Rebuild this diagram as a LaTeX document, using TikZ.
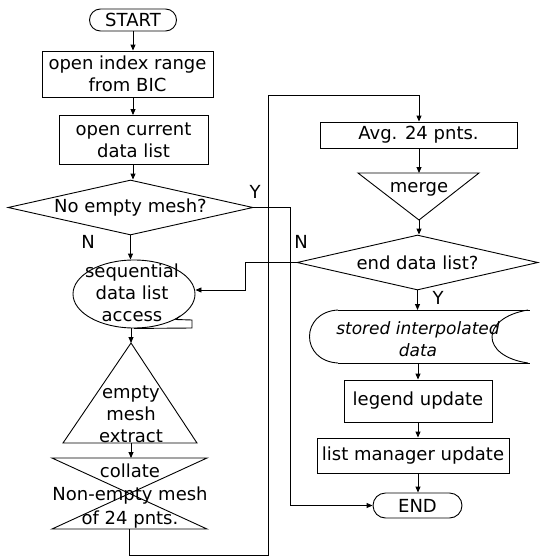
\documentclass[tikz,border=0pt]{standalone}
\usepackage{fontspec}
\setmainfont{DejaVu Sans}
\usetikzlibrary{arrows.meta,shapes.geometric,shapes.misc}
\begin{document}
\begin{tikzpicture}[x=1pt,y=-1pt,line width=0.9pt,
  every node/.style={font=\fontsize{18}{22}\selectfont,inner sep=0pt},
  proc/.style={draw,rectangle,align=center},
  term/.style={draw,rounded rectangle},
  dec/.style={draw,diamond},
  txt/.style={align=center},
  arr/.style={-{Triangle[length=6pt,width=5pt]}}]
\fill[white] (0,0) rectangle (539,557);
\useasboundingbox (0,0) rectangle (539,557);

% left column
\node[term,minimum width=87pt,minimum height=22pt] (start) at (133,20) {START};
\node[proc,minimum width=171pt,minimum height=46pt] (b1) at (127.5,74) {open index range\\from BIC};
\node[proc,minimum width=149pt,minimum height=49pt] (b2) at (133.5,140) {open current\\data list};
\node[dec,minimum width=245pt,minimum height=55pt] (d1) at (130.5,207.5) {};
\node[txt] (d1t) at (130.5,208) {No empty mesh?};
\node[draw,ellipse,minimum width=122pt,minimum height=68pt] (seq) at (134,294) {};
\node[txt] (seqt) at (132,293) {sequential\\data list\\access};
\draw (180,316) -- (176,319.5) -- (192,320) -- (192,328) -- (seq.south);

\coordinate (triTop) at (131,343);
\coordinate (triBL) at (63,443);
\coordinate (triBR) at (197,443);
\coordinate (triBase) at (131,443);
\draw (triTop) -- (triBR) -- (triBL) -- cycle;
\node[txt] (trit) at (131,414) {empty\\mesh\\extract};

\coordinate (cTL) at (52,458);
\coordinate (cTR) at (207,458);
\coordinate (cBL) at (52,529);
\coordinate (cBR) at (207,529);
\coordinate (cTop) at (131,458);
\coordinate (cBot) at (129,529);
\draw (cTL) -- (cTR) -- (cBL) -- (cBR) -- cycle;
\node[txt,font=\fontsize{18}{23.5}\selectfont] (coll) at (130,496) {collate\\Non-empty mesh\\of 24 pnts.};

% right column
\node[proc,minimum width=197pt,minimum height=26pt] (avg) at (418.5,135) {Avg. 24 pnts.};
\coordinate (mTL) at (358,173);
\coordinate (mTR) at (479,173);
\coordinate (mTop) at (419,173);
\coordinate (mApex) at (419,220);
\draw (mTL) -- (mTR) -- (mApex) -- cycle;
\node[txt] (mt) at (419,189) {merge};
\node[dec,minimum width=241pt,minimum height=55pt] (d2) at (417.5,262.5) {};
\node[txt] (d2t) at (417.5,263) {end data list?};

\coordinate (stTop) at (418,310);
\coordinate (stBot) at (418,363);
\draw (338,310) -- (530,310);
\draw (338,363) -- (530,363);
\draw (338,310) .. controls (300,312) and (300,361) .. (338,363);
\draw (528,310) .. controls (480,318) and (480,356) .. (528,363);
\node[txt,font=\fontsize{17}{22}\selectfont\itshape] (st) at (418,339) {stored interpolated\\data};

\node[proc,minimum width=148pt,minimum height=42pt] (leg) at (418,401) {legend update};
\node[proc,minimum width=192pt,minimum height=35pt] (lm) at (413,455.5) {list manager update};
\node[term,minimum width=89pt,minimum height=25pt] (endn) at (417.5,505.5) {END};

% labels
\node (lY1) at (255,192) {Y};
\node (lN1) at (88,242) {N};
\node (lN2) at (301,242) {N};
\node (lY2) at (438,298) {Y};

% connectors
\draw[arr] (start.south) -- (start.south |- b1.north);
\draw[arr] (start.south |- b1.south) -- (start.south |- b2.north);
\draw[arr] (start.south |- b2.south) -- (start.south |- d1.north);
\draw[arr] (d1.south) -- (d1.south |- seq.north);
\draw[arr] (triTop |- seq.south) -- (triTop);
\draw[arr] (triBase) -- (cTop);

\coordinate (jA) at (129,555);
\coordinate (jB) at (268,555);
\coordinate (jC) at (268,95);
\draw[arr] (cBot) -- (jA) -- (jB) -- (jC) -- (jC -| mTop) -- (mTop |- avg.north);
\draw[arr] (mTop |- avg.south) -- (mTop);
\draw[arr] (mApex) -- (mApex |- d2.north);
\draw[arr] (d2.south) -- (d2.south |- stTop);
\draw[arr] (stBot) -- (stBot |- leg.north);
\draw[arr] (leg.south) -- (leg.south |- lm.north);
\draw[arr] (leg.south |- lm.south) -- (leg.south |- endn.north);

\coordinate (yA) at (290,207.5);
\draw[arr] (d1.east) -- (yA) -- (yA |- endn.west) -- (endn.west);

\coordinate (nA) at (245,262.5);
\coordinate (nB) at (245,290);
\draw[arr] (d2.west) -- (nA) -- (nB) -- (seq.east |- nB);
\end{tikzpicture}
\end{document}
